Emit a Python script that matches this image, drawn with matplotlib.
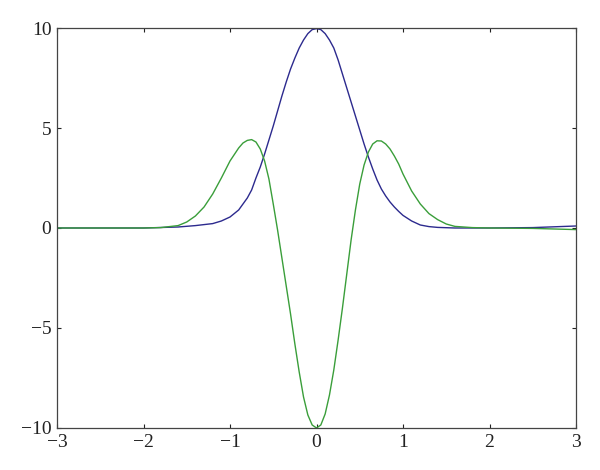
import matplotlib
matplotlib.use("Agg")
import matplotlib.pyplot as plt

# ---------------- DATA ----------------

blue_x = [-3.0, -2.0, -1.6, -1.4, -1.2, -1.1, -1.0, -0.9, -0.8, -0.75, -0.7, -0.65,
          -0.6, -0.55, -0.5, -0.45, -0.4, -0.35, -0.3, -0.25, -0.2, -0.15, -0.1,
          -0.05, 0.0, 0.05, 0.1, 0.15, 0.2, 0.25, 0.3, 0.35, 0.4, 0.45, 0.5,
          0.55, 0.6, 0.65, 0.7, 0.75, 0.8, 0.85, 0.9, 0.95, 1.0, 1.1, 1.2, 1.3,
          1.4, 1.6, 2.0, 2.5, 3.0]
blue_y = [0.0, 0.0, 0.05, 0.12, 0.22, 0.35, 0.55, 0.9, 1.5, 1.9, 2.5, 3.05,
          3.7, 4.4, 5.1, 5.85, 6.6, 7.3, 7.95, 8.5, 9.0, 9.4, 9.72,
          9.92, 9.97, 9.92, 9.72, 9.4, 9.0, 8.4, 7.7, 7.0, 6.3, 5.6, 4.9,
          4.2, 3.55, 2.95, 2.4, 1.95, 1.6, 1.3, 1.05, 0.83, 0.63, 0.35, 0.15, 0.07,
          0.03, 0.0, 0.0, 0.02, 0.1]

green_x = [-3.0, -2.0, -1.8, -1.6, -1.5, -1.4, -1.3, -1.2, -1.1, -1.0, -0.9, -0.85,
           -0.8, -0.75, -0.7, -0.65, -0.6, -0.55, -0.5, -0.45, -0.4, -0.35, -0.3,
           -0.25, -0.2, -0.15, -0.1, -0.05, 0.0, 0.05, 0.1, 0.15, 0.2, 0.25, 0.3,
           0.35, 0.4, 0.45, 0.5, 0.55, 0.6, 0.65, 0.7, 0.75, 0.8, 0.85, 0.9, 0.95,
           1.0, 1.1, 1.2, 1.3, 1.4, 1.5, 1.6, 1.8, 2.0, 2.5, 3.0]
green_y = [0.0, 0.0, 0.02, 0.12, 0.3, 0.6, 1.05, 1.7, 2.5, 3.35, 4.0, 4.25,
           4.38, 4.42, 4.3, 3.95, 3.35, 2.45, 1.2, -0.1, -1.5, -2.9, -4.3,
           -5.8, -7.2, -8.45, -9.35, -9.85, -10.0, -9.85, -9.3, -8.35, -7.1, -5.6, -4.0,
           -2.3, -0.6, 0.9, 2.2, 3.15, 3.8, 4.2, 4.36, 4.35, 4.2, 3.95, 3.6, 3.2,
           2.7, 1.85, 1.2, 0.72, 0.42, 0.2, 0.08, 0.02, 0.0, -0.02, -0.08]

x_ticks = [-3, -2, -1, 0, 1, 2, 3]
y_ticks = [-10, -5, 0, 5, 10]

# ---------------- PLOT ----------------

plt.rcParams["font.family"] = ["Liberation Serif", "DejaVu Serif"]

fig = plt.figure(figsize=(6, 4.7), dpi=100)
ax = fig.add_axes([0.095, 0.0894, 0.865, 0.851])

ax.plot(blue_x, blue_y, color="#2c2a8e", linewidth=1.0)
ax.plot(green_x, green_y, color="#3a9e3a", linewidth=1.0)

ax.set_xlim(-3, 3)
ax.set_ylim(-10, 10)
ax.set_xticks(x_ticks)
ax.set_yticks(y_ticks)

ax.tick_params(direction="in", length=3, width=0.8, top=True, right=True,
               labelsize=14, colors="#222222", pad=4)
for s in ax.spines.values():
    s.set_color("#444444")
    s.set_linewidth(0.9)

fig.savefig("out.png", dpi=100)
